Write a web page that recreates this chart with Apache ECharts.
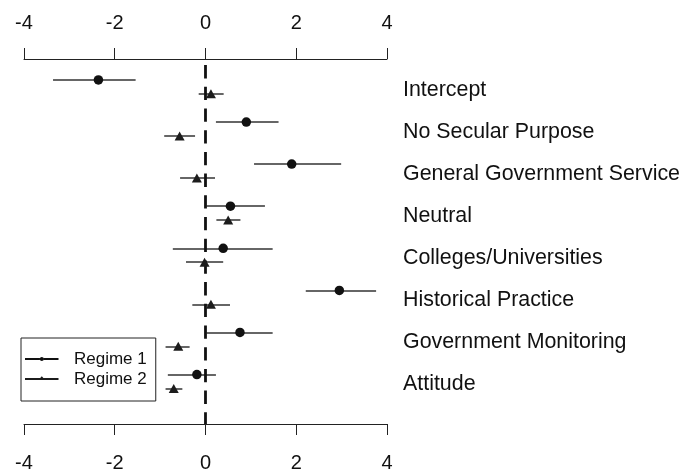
<!DOCTYPE html>
<html>
<head>
<meta charset="utf-8">
<script src="https://cdn.jsdelivr.net/npm/echarts@6/dist/echarts.min.js"></script>
<style>
html,body{margin:0;padding:0;background:#fff;}
#chart{width:683px;height:473px;}
</style>
</head>
<body>
<div id="chart"></div>
<script>
const categories = ['Intercept','No Secular Purpose','General Government Service','Neutral','Colleges/Universities','Historical Practice','Government Monitoring','Attitude'];
const regime1Est = [-2.36, 0.90, 1.90, 0.55, 0.39, 2.95, 0.76, -0.19];
const regime1Lo  = [-3.36, 0.23, 1.07, 0.02, -0.72, 2.21, 0.02, -0.83];
const regime1Hi  = [-1.54, 1.61, 2.99, 1.31, 1.48, 3.76, 1.48, 0.23];
const regime2Est = [0.12, -0.57, -0.19, 0.50, -0.02, 0.12, -0.60, -0.70];
const regime2Lo  = [-0.15, -0.91, -0.56, 0.24, -0.43, -0.29, -0.88, -0.88];
const regime2Hi  = [0.40, -0.23, 0.21, 0.77, 0.39, 0.54, -0.35, -0.51];
const xTicks = [-4, -2, 0, 2, 4];

const X_MIN = xTicks[0], X_MAX = xTicks[xTicks.length - 1], X_STEP = 2;
const Y_MIN = -0.4976, Y_MAX = 8.175;
const R2_OFFSET = 0.33;
const LABEL_OFFSET = 0.235;
const FONT = 'Liberation Sans, Arial, Helvetica, sans-serif';

const r1Pos = categories.map((c, i) => i);
const r2Pos = categories.map((c, i) => i + R2_OFFSET);

const chart = echarts.init(document.getElementById('chart'), null, {renderer: 'canvas'});

// legend glyphs: a short line with a small marker in the middle (no overlapping sub-paths)
const iconR1 = 'path://M0 0 M44 20 M0 9 L14.9 9 L14.9 11 L0 11 Z M18.7 9 L33.5 9 L33.5 11 L18.7 11 Z M14.8 10 A2 2 0 1 1 18.8 10 A2 2 0 1 1 14.8 10 Z';
const iconR2 = 'path://M0 0 M44 20 M0 9 L33.5 9 L33.5 11 L0 11 Z M15.2 9 L16.8 7.3 L18.4 9 Z';

const xAxisCommon = {
  type: 'value', min: X_MIN, max: X_MAX, interval: X_STEP,
  axisLine: {show: true, onZero: false, lineStyle: {color: '#222', width: 1}},
  axisTick: {show: true, length: 11, inside: false, lineStyle: {color: '#222', width: 1}},
  splitLine: {show: false},
  axisLabel: {color: '#111', fontSize: 20, fontFamily: FONT}
};

chart.setOption({
  animation: false,
  backgroundColor: '#fff',
  grid: {left: 24, width: 363, top: 59, bottom: 48, containLabel: false},
  xAxis: [
    Object.assign({}, xAxisCommon, {position: 'bottom', axisLabel: Object.assign({}, xAxisCommon.axisLabel, {margin: 29})}),
    Object.assign({}, xAxisCommon, {position: 'top', axisLabel: Object.assign({}, xAxisCommon.axisLabel, {margin: 26})})
  ],
  yAxis: {
    type: 'value', inverse: true, min: Y_MIN, max: Y_MAX, position: 'right',
    axisLine: {show: false}, axisTick: {show: false}, splitLine: {show: false},
    axisLabel: {
      show: true, margin: 16, color: '#111', fontSize: 21.4, fontFamily: FONT, align: 'left',
      customValues: categories.map((c, i) => i + LABEL_OFFSET),
      formatter: function (v) { return categories[Math.round(v - LABEL_OFFSET)] || ''; }
    }
  },
  legend: {
    show: true, orient: 'vertical', left: 21, top: 338,
    padding: [11, 9, 12, 4], itemGap: 0, itemWidth: 44, itemHeight: 20,
    borderColor: '#222', borderWidth: 1, backgroundColor: '#fff',
    selectedMode: false,
    itemStyle: {opacity: 1, borderWidth: 0},
    textStyle: {color: '#111', fontSize: 17, fontFamily: FONT},
    data: [{name: 'Regime 1', icon: iconR1}, {name: 'Regime 2', icon: iconR2}]
  },
  series: [
    {
      name: 'Regime 1', type: 'scatter', symbol: 'circle', symbolSize: 9.5, z: 5,
      itemStyle: {color: '#111', opacity: 1},
      data: regime1Est.map((v, i) => [v, r1Pos[i]])
    },
    {
      name: 'Regime 2', type: 'scatter', symbol: 'triangle', symbolSize: [10, 9], z: 5,
      itemStyle: {color: '#1c1c1c', opacity: 1},
      data: regime2Est.map((v, i) => [v, r2Pos[i]])
    },
    {
      name: 'Regime 1', type: 'lines', coordinateSystem: 'cartesian2d', z: 3,
      lineStyle: {color: '#333', width: 1.5, opacity: 1},
      data: regime1Lo.map((lo, i) => ({coords: [[lo, r1Pos[i]], [regime1Hi[i], r1Pos[i]]]}))
    },
    {
      name: 'Regime 2', type: 'lines', coordinateSystem: 'cartesian2d', z: 3,
      lineStyle: {color: '#333', width: 1.5, opacity: 1},
      data: regime2Lo.map((lo, i) => ({coords: [[lo, r2Pos[i]], [regime2Hi[i], r2Pos[i]]]}))
    },
    {
      name: 'zero', type: 'line', z: 4, symbol: 'none', silent: true,
      lineStyle: {color: '#111', width: 2.8, type: [13.3, 8.4], dashOffset: 15.6},
      data: [[0, Y_MIN], [0, Y_MAX]]
    }
  ]
});
</script>
</body>
</html>
